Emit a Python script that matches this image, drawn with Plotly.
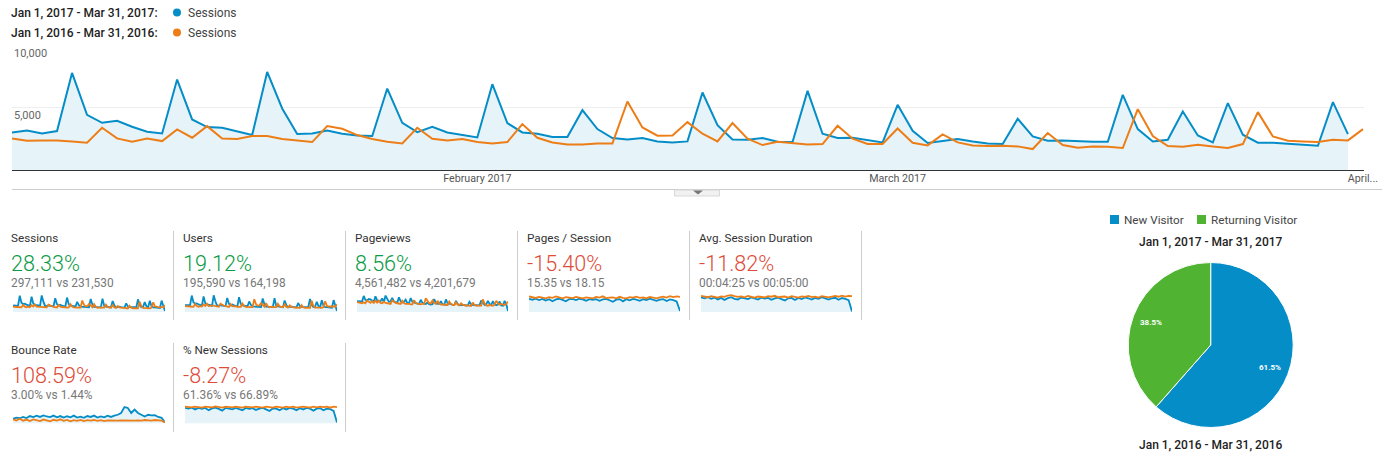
import plotly.graph_objects as go

W, H = 1392, 458
BLUE, ORANGE, GREEN = "#058dc7", "#ed7e17", "#50b432"
FILL = "#e6f3f9"
FONT = "Roboto"

sessions_2017 = [3013,3173,2933,3120,7787,4427,3787,3947,3467,3067,2933,7253,4053,3440,3387,3120,2800,7867,4933,2880,
                 2933,3173,2907,2773,2720,6533,3787,3040,3467,3013,2827,2613,6880,3760,3013,2907,2640,2640,4800,3280,
                 2560,2453,2560,2293,2213,2293,6213,3600,2453,2427,2560,2267,2240,6347,2907,2560,2587,2373,2213,5227,
                 3147,2160,2293,2480,2293,2133,2080,4107,2693,2347,2373,2293,2267,2267,6027,3280,2293,2427,4693,2773,
                 2213,5360,2827,2187,2187,2107,2000,1947,5440,2880]
sessions_2016 = [2533,2347,2373,2373,2293,2187,3387,2533,2267,2533,2320,3253,2587,3520,2533,2480,2720,2720,2480,2347,
                 2240,3520,3307,2800,2480,2267,2133,3387,2507,2373,2480,2240,2133,2240,3680,2587,2213,2053,2053,2133,
                 2133,5493,3413,2747,2773,3840,2907,2293,3760,2507,2000,2267,2160,2053,2080,3547,2507,2080,2080,3333,
                 2187,1973,2853,2213,1973,1920,1947,1893,1680,2960,2000,1787,1893,1867,1760,4880,2720,1920,1867,2027,
                 1893,1760,2080,4640,2693,2347,2293,2240,2427,2373,3280]
spark_end_sessions = 450

users_2017 = [2050,2120,1990,2080,5000,2950,2560,2640,2310,2050,1960,4750,2700,2300,2260,2080,1870,5100,3250,1920,
              1950,2110,1940,1850,1810,4300,2520,2030,2310,2010,1870,1750,4500,2500,2010,1940,1760,1760,3200,2190,
              1710,1640,1710,1530,1480,1530,4100,2400,1640,1620,1710,1510,1490,4200,1940,1710,1720,1580,1480,3480,
              2100,1440,1530,1650,1530,1420,1390,2740,1800,1560,1580,1530,1510,1510,3950,2190,1530,1620,3130,1850,
              1480,3570,1880,1460,1460,1400,1330,1300,3630,1920,300]
users_2016 = [1800,1670,1690,1680,1630,1560,2400,1800,1610,1790,1650,2300,1840,2490,1790,1760,1930,1930,1760,1670,
              1590,2500,2340,1990,1760,1610,1520,2400,1780,1690,1760,1590,1520,1590,2600,1830,1570,1460,1460,1510,
              1520,3880,2420,1950,1970,2720,2060,1630,2670,1780,1420,1610,1530,1460,1480,2510,1780,1480,1470,2360,
              1550,1400,2020,1570,1400,1360,1380,1340,1190,2100,1420,1270,1340,1320,1250,3450,1930,1360,1320,1440,
              1340,1250,1480,3290,1910,1670,1630,1590,1720,1680,2320]

pageviews_2017 = [62,60,58,60,92,70,66,74,72,64,58,90,66,60,62,78,56,94,72,58,
                  60,80,60,56,54,84,62,54,58,70,52,50,80,58,52,50,48,46,70,52,
                  48,46,54,44,42,44,74,52,46,46,62,44,42,72,50,46,46,42,40,64,
                  46,40,40,42,40,38,38,58,44,40,40,38,38,38,66,50,40,44,64,46,
                  40,62,44,38,42,60,38,36,64,44,6]
pageviews_2016 = [56,54,52,50,56,50,66,56,52,62,52,64,54,66,52,50,58,52,50,48,
                  46,66,58,52,50,48,46,64,50,46,48,46,44,44,68,52,48,44,44,46,
                  46,78,60,50,50,66,52,46,64,48,42,44,44,40,40,60,46,40,40,56,
                  42,38,50,42,38,36,38,36,34,54,40,36,38,36,36,72,50,38,36,40,
                  38,36,42,64,50,42,46,42,40,46,60]

days_sampled = list(range(0, 91, 2))
pages_2017 = [16.4,15.2,16.6,14.8,16.2,14.2,15.8,13.4,15.6,16.4,15.0,13.2,16.0,16.2,14.8,16.4,15.6,14.0,16.0,15.0,
              16.0,13.8,15.6,16.2,14.6,12.6,15.2,16.0,13.2,15.8,14.4,16.2,15.4,13.8,15.8,14.8,16.4,15.0,13.8,15.4,
              16.0,13.6,15.6,14.8,13.0,1.2]
pages_2016 = [19.2,18.2,17.4,18.8,18.0,17.0,18.4,17.6,19.2,17.8,17.0,18.4,17.8,17.2,18.8,17.6,16.8,18.2,17.6,17.0,
              18.8,17.8,19.4,17.2,17.8,18.2,17.0,18.8,17.6,16.8,18.4,17.8,19.0,17.6,18.2,16.8,18.8,17.8,17.0,18.2,
              19.0,17.8,19.6,18.4,19.4,18.8]

duration_2017 = [288,268,292,258,282,246,276,236,270,290,258,244,282,272,252,286,272,244,282,264,
                 276,238,266,282,252,226,268,276,236,274,254,284,268,244,274,258,290,264,242,268,
                 278,238,272,258,232,12]
duration_2016 = [316,298,288,308,298,282,304,294,322,330,308,296,304,286,312,298,282,302,294,286,
                 310,298,316,286,298,302,282,310,296,282,306,294,314,292,300,282,310,298,286,302,
                 314,298,320,302,314,310]

bounce_2017 = [2.2,2.7,2.4,3.0,2.5,3.4,2.9,3.6,3.0,3.7,3.2,2.9,3.6,2.8,3.4,2.7,3.3,2.8,3.6,2.7,
               3.1,2.6,3.4,3.0,3.6,2.7,3.2,2.8,3.6,3.0,3.6,4.0,4.8,7.5,7.1,4.8,6.4,4.8,4.0,3.2,
               4.0,3.7,3.8,3.0,2.6,0.5]
bounce_2016 = [1.9,1.4,2.2,1.3,1.8,1.1,1.9,1.5,1.1,1.8,1.4,1.0,1.7,1.3,1.9,1.2,1.6,1.0,1.5,1.2,
               1.6,1.1,1.5,1.3,1.6,1.2,1.5,1.1,1.4,1.3,1.5,1.3,1.4,1.3,1.4,1.2,1.3,1.4,1.3,1.6,
               1.4,1.3,1.6,1.4,1.3,0.5]

new_sessions_2017 = [63,60,64,57,63,59,63,54,61,64,59,52,63,61,57,63,60,54,63,59,
                     62,55,60,63,57,51,61,60,54,62,57,63,60,54,62,57,63,60,52,60,
                     62,54,60,58,51,4]
new_sessions_2016 = [68,66,65,68,66,64,68,66,65,69,66,64,68,66,65,68,66,64,68,66,
                     65,68,66,64,68,66,64,68,66,64,68,65,68,64,66,68,66,64,68,65,
                     68,66,68,64,68,66]

kpi_names = ["Sessions", "Users", "Pageviews", "Pages / Session", "Avg. Session Duration", "Bounce Rate", "% New Sessions"]
kpi_pcts = ["28.33%", "19.12%", "8.56%", "-15.40%", "-11.82%", "108.59%", "-8.27%"]
kpi_subs = ["297,111 vs 231,530", "195,590 vs 164,198", "4,561,482 vs 4,201,679", "15.35 vs 18.15",
            "00:04:25 vs 00:05:00", "3.00% vs 1.44%", "61.36% vs 66.89%"]

pie_labels = ["New Visitor", "Returning Visitor"]
pie_values = [61.5, 38.5]
period_a = "Jan 1, 2017 - Mar 31, 2017"
period_b = "Jan 1, 2016 - Mar 31, 2016"
tick_labels = ["February 2017", "March 2017", "April..."]
tick_days = [31, 59, 90]


def fx(p):
    return p / W


def fy(p):
    return 1 - p / H


annotations, shapes = [], []


def text(x, y, s, size=12, color="#333333", weight=400, anchor="left"):
    annotations.append(dict(x=fx(x), y=fy(y), xref="paper", yref="paper", text=s,
                            showarrow=False, xanchor=anchor, yanchor="middle",
                            font=dict(family=FONT, size=size, color=color, weight=weight), borderpad=0, borderwidth=0))


def rect(x0, y0, x1, y1, fill=None, line=None, lw=1):
    shapes.append(dict(type="rect", xref="paper", yref="paper", x0=fx(x0), x1=fx(x1), y0=fy(y1), y1=fy(y0),
                       fillcolor=fill or "rgba(0,0,0,0)", line=dict(color=line or "rgba(0,0,0,0)", width=lw if line else 0),
                       layer="below"))


def hv(x0, y0, x1, y1, color, lw=1):
    shapes.append(dict(type="line", xref="paper", yref="paper", x0=fx(x0), x1=fx(x1), y0=fy(y0), y1=fy(y1),
                       line=dict(color=color, width=lw), layer="below"))


def dot(x, y, r, color):
    shapes.append(dict(type="circle", xref="paper", yref="paper", x0=fx(x - r), x1=fx(x + r), y0=fy(y + r), y1=fy(y - r),
                       fillcolor=color, line=dict(width=0)))


fig = go.Figure()

# main chart
fig.add_trace(go.Scatter(x=list(range(len(sessions_2017))), y=sessions_2017, mode="lines", fill="tozeroy", fillcolor=FILL,
                         line=dict(color=BLUE, width=2), hoverinfo="skip", showlegend=False))
fig.add_trace(go.Scatter(x=list(range(len(sessions_2016))), y=sessions_2016, mode="lines",
                         line=dict(color=ORANGE, width=2), hoverinfo="skip", showlegend=False))

layout = dict(
    width=W, height=H, autosize=False, margin=dict(l=0, r=0, t=0, b=0, pad=0, autoexpand=False),
    paper_bgcolor="white", plot_bgcolor="rgba(0,0,0,0)",
    showlegend=False, font=dict(family=FONT, size=11, color="#555555"),
    xaxis=dict(domain=[fx(12), fx(1364)], range=[0, 90.07], tickvals=tick_days, ticktext=tick_labels, showgrid=False,
               zeroline=False, ticks="", tickfont=dict(family=FONT, size=10.7, color="#555555"), anchor="y", ticklen=0,
               ticklabelstandoff=-2, showline=True, linecolor="#333333", linewidth=1),
    yaxis=dict(domain=[fy(170), fy(45.3)], range=[0, 10000], tickvals=[5000, 10000], showticklabels=False,
               gridcolor="#eeeeee", gridwidth=1, zeroline=False, ticks="", anchor="x"),
)

text(14, 53.5, "10,000", 11, "#666666")
text(14, 115.5, "5,000", 11, "#666666")

# header legend
text(11, 12.5, period_a + ":", 12, "#222222", 500)
text(11, 32.5, period_b + ":", 12, "#222222", 500)
dot(177, 12.5, 4, BLUE)
dot(177, 32.5, 4, ORANGE)
text(188, 12.5, "Sessions", 12, "#444444")
text(188, 32.5, "Sessions", 12, "#444444")

# collapse control under the chart
hv(12, 189.5, 1382, 189.5, "#cccccc", 1)
rect(674.5, 190, 719.5, 196, "#f1f1f1", "#d8d8d8", 1)
shapes.append(dict(type="path", xref="paper", yref="paper", fillcolor="#777777", line=dict(width=0),
                   path=f"M {fx(693)} {fy(190.5)} L {fx(703)} {fy(190.5)} L {fx(698)} {fy(194.5)} Z"))

# scorecards
GOOD, BAD = "#0b9a46", "#dd4b39"
cards = [
    (11, 13, 165, 237.5, 263, 283, 312, sessions_2017 + [spark_end_sessions], sessions_2016, None, 10000),
    (183, 185, 337, 237.5, 263, 283, 312, users_2017, users_2016, None, 6400),
    (355, 357, 508, 237.5, 263, 283, 312, pageviews_2017, pageviews_2016, None, 120),
    (527, 529, 680, 237.5, 263, 283, 312, pages_2017, pages_2016, days_sampled, 26),
    (699, 701, 852, 237.5, 263, 283, 312, duration_2017, duration_2016, days_sampled, 410),
    (11, 13, 165, 349.5, 375, 395, 423.5, bounce_2017, bounce_2016, days_sampled, 9.6),
    (183, 185, 337, 349.5, 375, 395, 423.5, new_sessions_2017, new_sessions_2016, days_sampled, 85),
]
for i, (tx, sx0, sx1, ty, py, sy, sb, blue, orange, days, top) in enumerate(cards):
    n = i + 2
    text(tx, ty, kpi_names[i], 11.7, "#333333")
    text(tx, py, kpi_pcts[i], 21.6, GOOD if i < 3 else BAD, 300)
    text(tx, sy, kpi_subs[i], 11.9, "#777777")
    bx = days if days else list(range(len(blue)))
    ox = days if days else list(range(len(orange)))
    fig.add_trace(go.Scatter(x=bx, y=blue, xaxis=f"x{n}", yaxis=f"y{n}", mode="lines", fill="tozeroy", fillcolor=FILL,
                             line=dict(color=BLUE, width=1.8), hoverinfo="skip", showlegend=False))
    fig.add_trace(go.Scatter(x=ox, y=orange, xaxis=f"x{n}", yaxis=f"y{n}", mode="lines",
                             line=dict(color=ORANGE, width=1.8), hoverinfo="skip", showlegend=False))
    layout[f"xaxis{n}"] = dict(domain=[fx(sx0), fx(sx1)], range=[0, 90], visible=False, anchor=f"y{n}")
    layout[f"yaxis{n}"] = dict(domain=[fy(sb), fy(sb - 21)], range=[0, top], visible=False, anchor=f"x{n}")

for x in (173.5, 345.5, 517.5, 689.5, 861.5):
    hv(x, 231, x, 320, "#cccccc", 1)
for x in (173.5, 345.5):
    hv(x, 343, x, 432, "#cccccc", 1)

# pie
cx, cy, r = 1210.7, 345, 82.5
fig.add_trace(go.Pie(labels=pie_labels, values=pie_values, sort=False, direction="clockwise", rotation=0,
                     marker=dict(colors=[BLUE, GREEN], line=dict(color="white", width=1)), textinfo="none",
                     hoverinfo="skip", showlegend=False,
                     domain=dict(x=[fx(cx - r), fx(cx + r)], y=[fy(cy + r), fy(cy - r)])))
text(1270, 367, f"{pie_values[0]}%", 8, "white", 700, "center")
text(1151, 322, f"{pie_values[1]}%", 8, "white", 700, "center")
text(1211, 242, period_a, 12, "#222222", 500, "center")
text(1211, 445, period_b, 12, "#222222", 500, "center")
rect(1110, 215, 1119, 224, BLUE)
rect(1197, 215, 1206, 224, GREEN)
text(1124, 219.5, pie_labels[0], 11.7, "#444444")
text(1211, 219.5, pie_labels[1], 11.7, "#444444")

layout["annotations"] = annotations
layout["shapes"] = shapes
fig.update_layout(**layout)
fig.write_html("out.html", default_width=f"{W}px", default_height=f"{H}px",
               post_script="document.documentElement.style.overflow='hidden';document.body.style.margin='0';document.body.style.overflow='hidden';",
               config=dict(displayModeBar=False, responsive=False))
